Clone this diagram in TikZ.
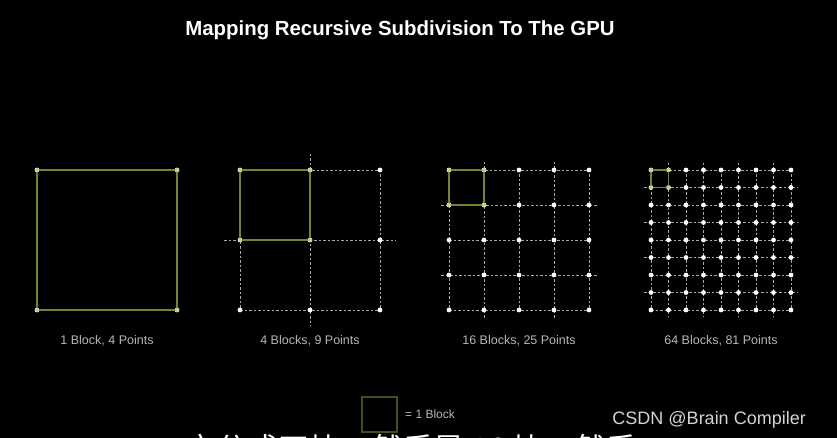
\documentclass[tikz,border=0pt]{standalone}
\usepackage{fontspec}
\setmainfont{Liberation Sans}
\newfontfamily\cjk{Noto Sans CJK SC}
\usepackage{xcolor}
\definecolor{gridgray}{HTML}{A8A8A8}
\definecolor{blockolive}{HTML}{7B7F2F}
\definecolor{dotolive}{HTML}{C9CC8C}
\definecolor{legendolive}{HTML}{4A4C1C}
\definecolor{labelgray}{HTML}{B6B6B6}
\definecolor{wmgray}{HTML}{D4D4D4}

\begin{document}
\begin{tikzpicture}[
  x=1pt, y=-1pt,
  font=\fontsize{12.5}{15}\selectfont,
  grid/.style={draw=gridgray, line width=0.9pt, dash pattern=on 2.5pt off 2pt},
  block/.style={draw=blockolive, line width=1.7pt},
  legendbox/.style={draw=legendolive, line width=2pt, minimum size=35pt, inner sep=0pt},
  dot/.style={fill=white},
  blockdot/.style={fill=dotolive},
  caption/.style={text=labelgray, anchor=base, inner sep=0pt},
  title/.style={text=white, anchor=base, inner sep=0pt,
                font=\bfseries\fontsize{20.4}{24}\selectfont},
]

% ---- Background ---------------------------------------------------------------
\fill[black] (0,0) rectangle (837,438);
\clip (0,0) rectangle (837,438);

\node[title] (title) at (400,36) {Mapping Recursive Subdivision To The GPU};

% ---- Grids (x left / cells per side / overshoot of new lines / caption) ------
\def\side{140}  % side of every grid
\def\ytop{170}  % top edge of every grid

\foreach \xl/\n/\ext/\lbl in {37/1/0/{1 Block, 4 Points},
                              240/2/16/{4 Blocks, 9 Points},
                              449/4/8/{16 Blocks, 25 Points},
                              651/8/7/{64 Blocks, 81 Points}}{
  \pgfmathsetmacro\cell{\side/\n}
  % dashed lines, the newest (odd) ones run a bit past the border
  \foreach \i in {0,...,\n}{
    \pgfmathsetmacro\e{(mod(\i,2)==1)*(\i<\n)*\ext}
    \draw[grid] (\xl+\i*\cell, \ytop-\e) -- (\xl+\i*\cell, \ytop+\side+\e);
    \draw[grid] (\xl-\e, \ytop+\i*\cell) -- (\xl+\side+\e, \ytop+\i*\cell);
  }
  % points
  \foreach \i in {0,...,\n}
    \foreach \j in {0,...,\n}
      \fill[dot] (\xl+\i*\cell, \ytop+\j*\cell) circle (2.4pt);
  % one block
  \draw[block] (\xl,\ytop) rectangle ++(\cell,\cell);
  \foreach \i/\j in {0/0,1/0,0/1,1/1}
    \fill[blockdot] (\xl+\i*\cell, \ytop+\j*\cell) circle (2pt);
  \node[caption] (cap\n) at (\xl+\side/2, 344) {\lbl};
}

% ---- Legend -------------------------------------------------------------------
\node[legendbox] (legend) at (379,414.5) {};
\node[caption, anchor=base west, font=\fontsize{12}{14}\selectfont]
  (legendtxt) at (405,418) {= 1 Block};

% ---- Watermark and cut subtitle -----------------------------------------------
\node[anchor=base east, inner sep=0pt, text=wmgray, font=\fontsize{18}{20}\selectfont]
  (wm) at (806,424) {CSDN @Brain Compiler};
\node[anchor=base west, inner sep=0pt, text=white, font=\cjk\fontsize{31}{34}\selectfont]
  (sub) at (185,460) {它分成四块，然后是 16 块，然后};

\end{tikzpicture}
\end{document}
